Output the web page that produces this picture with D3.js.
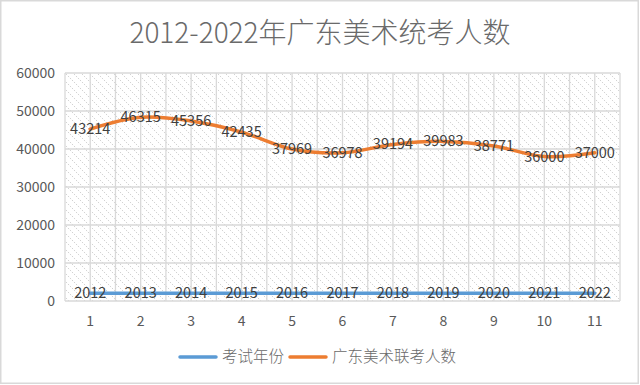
<!DOCTYPE html>
<html><head><meta charset="utf-8">
<script src="https://cdn.jsdelivr.net/npm/d3@7"></script>
<style>body{margin:0;background:#fff}svg{display:block}</style>
</head><body>
<svg id="c" width="640" height="385"></svg>
<script>
const categories = [1,2,3,4,5,6,7,8,9,10,11];
const years = [2012,2013,2014,2015,2016,2017,2018,2019,2020,2021,2022];
const counts = [43214,46315,45356,42435,37969,36978,39194,39983,38771,36000,37000];
const yTicks = [0,10000,20000,30000,40000,50000,60000];
const seriesNames = ["考试年份","广东美术联考人数"];
const colors = ["#5B9BD5","#ED7D31"];
const title = "2012-2022年广东美术统考人数";

const font = "'Noto Sans CJK SC','Noto Sans',sans-serif";
const svg = d3.select("#c");
const W=640,H=385;
const m={l:65,t:73,r:620,b:301};

svg.append("rect").attr("x",0.75).attr("y",0.75).attr("width",W-2.5).attr("height",H-2.5)
  .attr("fill","#fff").attr("stroke","#d9d9d9").attr("stroke-width",1.5);

const defs=svg.append("defs");
const pat=defs.append("pattern").attr("id","hatch").attr("patternUnits","userSpaceOnUse")
  .attr("width",8).attr("height",8);
pat.append("rect").attr("width",8).attr("height",8).attr("fill","#fff");
pat.append("path").attr("d","M-2,-2L10,10M-2,6L2,10M6,-2L10,2").attr("stroke","#d0d0d0").attr("stroke-width",1).attr("stroke-dasharray","1.4,1.4");

const x=d3.scaleBand().domain(categories).range([m.l,m.r]);
const y=d3.scaleLinear().domain([0,60000]).range([m.b,m.t]);

svg.append("rect").attr("x",m.l).attr("y",m.t).attr("width",m.r-m.l).attr("height",m.b-m.t).attr("fill","url(#hatch)");

// grid
const g=svg.append("g");
g.selectAll("line.h").data(yTicks).join("line").attr("x1",m.l).attr("x2",m.r)
  .attr("y1",d=>y(d)).attr("y2",d=>y(d)).attr("stroke","#d9d9d9").attr("stroke-width",1.3);
const vx=[];
categories.forEach(c=>{vx.push(x(c));vx.push(x(c)+x.bandwidth()/2);});
vx.push(m.r);
g.selectAll("line.v").data(vx).join("line").attr("x1",d=>d).attr("x2",d=>d)
  .attr("y1",m.t).attr("y2",m.b).attr("stroke","#d9d9d9").attr("stroke-width",1.3);

// y axis labels
svg.append("g").selectAll("text").data(yTicks).join("text")
  .attr("x",55).attr("y",d=>y(d)).attr("dy","0.35em").attr("text-anchor","end")
  .attr("font-family",font).attr("font-size",14).attr("fill","#595959").text(d=>d);
// x axis labels
svg.append("g").selectAll("text").data(categories).join("text")
  .attr("x",d=>x(d)+x.bandwidth()/2).attr("y",321).attr("dy","0.35em").attr("text-anchor","middle")
  .attr("font-family",font).attr("font-size",14).attr("fill","#595959").text(d=>d);

// stacked data
const rows=categories.map((c,i)=>({c,a:years[i],b:counts[i]}));
const stack=d3.stack().keys(["a","b"])(rows);
const line=d3.line().x((d,i)=>x(categories[i])+x.bandwidth()/2).y(d=>y(d[1])).curve(d3.curveCardinal.tension(0));
const raw=[years,counts];
stack.forEach((s,k)=>{
  svg.append("path").datum(s).attr("d",line).attr("fill","none").attr("stroke",colors[k])
    .attr("stroke-width",3.5).attr("stroke-linecap","round").attr("stroke-linejoin","round");
});
stack.forEach((s,k)=>{
  svg.append("g").selectAll("text").data(s).join("text")
    .attr("x",(d,i)=>x(categories[i])+x.bandwidth()/2).attr("y",d=>y(d[1])).attr("dy","0.35em")
    .attr("text-anchor","middle").attr("font-family",font).attr("font-size",14.5).attr("fill","#404040")
    .text((d,i)=>raw[k][i]);
});

// title
svg.append("text").attr("x",320).attr("y",33).attr("dy","0.35em").attr("text-anchor","middle")
  .attr("font-family",font).attr("font-size",28).attr("font-weight",300).attr("fill","#6a6a6a").text(title);

// legend
const lg=svg.append("g");
const items=[{x:180,tx:222},{x:290,tx:332}];
items.forEach((it,k)=>{
  lg.append("line").attr("x1",it.x).attr("x2",it.x+36).attr("y1",357).attr("y2",357)
    .attr("stroke",colors[k]).attr("stroke-width",3.5).attr("stroke-linecap","round");
  lg.append("text").attr("x",it.tx).attr("y",357).attr("dy","0.35em").attr("font-family",font)
    .attr("font-size",15.5).attr("font-weight",300).attr("fill","#6a6a6a").text(seriesNames[k]);
});
</script>
</body></html>
